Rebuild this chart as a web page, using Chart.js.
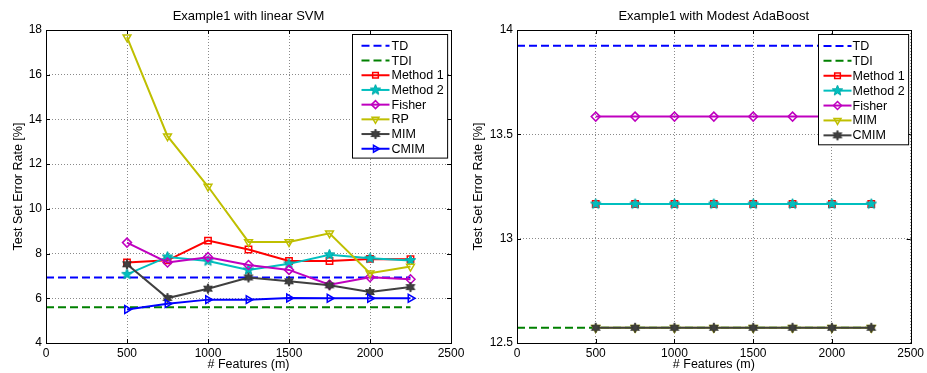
<!DOCTYPE html>
<html>
<head>
<meta charset="utf-8">
<script src="https://cdn.jsdelivr.net/npm/chart.js"></script>
<style>
  html, body { margin: 0; padding: 0; background: #fff; }
  #wrap { position: relative; width: 927px; height: 373px; overflow: hidden; }
  #svmChart { position: absolute; left: 0; top: 0; }
  #adaChart { position: absolute; left: 466px; top: 0; }
</style>
</head>
<body>
<div id="wrap">
  <canvas id="svmChart" width="470" height="373"></canvas>
  <canvas id="adaChart" width="461" height="373"></canvas>
</div>
<script>
// x values shared by both panels
const features = [500, 750, 1000, 1250, 1500, 1750, 2000, 2250];
const refSpan = [0, 2250];
const xTicks = [0, 500, 1000, 1500, 2000, 2500];

// left panel: linear SVM
const svmTicks = [4, 6, 8, 10, 12, 14, 16, 18];
const svmTD = [6.93, 6.93];
const svmTDI = [5.6, 5.6];
const svmMethod1 = [7.6, 7.7, 8.58, 8.18, 7.67, 7.67, 7.76, 7.75];
const svmMethod2 = [7.07, 7.85, 7.67, 7.27, 7.54, 7.95, 7.79, 7.69];
const svmFisher = [8.49, 7.6, 7.84, 7.49, 7.27, 6.61, 6.94, 6.85];
const svmRP = [17.68, 13.25, 11.0, 8.52, 8.52, 8.91, 7.12, 7.42];
const svmMIM = [7.52, 6.01, 6.43, 6.93, 6.76, 6.58, 6.28, 6.5];
const svmCMIM = [5.5, 5.76, 5.94, 5.94, 6.01, 6.0, 6.0, 6.0];

// right panel: Modest AdaBoost
const adaTicks = [12.5, 13, 13.5, 14];
const adaTD = [13.925, 13.925];
const adaTDI = [12.573, 12.573];
const adaMethod1 = [13.166, 13.166, 13.166, 13.166, 13.166, 13.166, 13.166, 13.166];
const adaMethod2 = [13.166, 13.166, 13.166, 13.166, 13.166, 13.166, 13.166, 13.166];
const adaFisher = [13.585, 13.585, 13.585, 13.585, 13.585, 13.585, 13.585, 13.585];
const adaMIM = [12.573, 12.573, 12.573, 12.573, 12.573, 12.573, 12.573, 12.573];
const adaCMIM = [12.573, 12.573, 12.573, 12.573, 12.573, 12.573, 12.573, 12.573];

const FONT = "'Liberation Sans', Arial, Helvetica, sans-serif";

// filled star marker as an image, chart.js accepts a canvas as pointStyle
function makeStar(points, rOut, rIn, fill, stroke) {
    const size = Math.ceil(rOut * 2 + 2);
    const c = document.createElement('canvas');
    c.width = size; c.height = size;
    const g = c.getContext('2d');
    const cx = size / 2, cy = size / 2;
    g.beginPath();
    for (let i = 0; i < points * 2; i++) {
        const r = i % 2 === 0 ? rOut : rIn;
        const a = -Math.PI / 2 + i * Math.PI / points;
        const px = cx + r * Math.cos(a), py = cy + r * Math.sin(a);
        if (i === 0) g.moveTo(px, py); else g.lineTo(px, py);
    }
    g.closePath();
    g.fillStyle = fill;
    g.fill();
    g.strokeStyle = stroke;
    g.lineWidth = 1;
    g.stroke();
    return c;
}

const cyanStar = makeStar(5, 5.5, 2.4, '#00bfbf', '#00a8a8');
const grayStar = makeStar(6, 5, 2.6, '#404040', '#303030');

function pts(xs, ys) {
    return xs.map((x, i) => ({ x: x, y: ys[i] }));
}

// chart.js paints low "order" on top, so later datasets get lower order
let drawOrder = 0;

function refLine(label, color, ys) {
    return {
        label: label, data: pts(refSpan, ys), order: drawOrder--,
        borderColor: color, borderWidth: 2, borderDash: [8, 4],
        pointRadius: 0, fill: false
    };
}

function series(label, color, ys, style, extra) {
    return Object.assign({
        label: label, data: pts(features, ys), order: drawOrder--,
        borderColor: color, borderWidth: 2,
        pointStyle: style, pointRadius: 4.5, pointBorderWidth: 1.5,
        pointBorderColor: color, pointBackgroundColor: 'rgba(0,0,0,0)',
        fill: false, tension: 0
    }, extra || {});
}

// matlab-like box, inward ticks, title and inner legend
const matlabPlugin = {
    id: 'matlab',
    afterDraw(chart, args, opts) {
        const ctx = chart.ctx;
        const a = chart.chartArea;
        ctx.save();
        ctx.strokeStyle = '#000';
        ctx.lineWidth = 1;
        ctx.setLineDash([]);
        ctx.strokeRect(Math.round(a.left) + 0.5, Math.round(a.top) + 0.5,
            Math.round(a.right - a.left), Math.round(a.bottom - a.top));
        ctx.beginPath();
        chart.scales.x.ticks.forEach(t => {
            const px = Math.round(chart.scales.x.getPixelForValue(t.value)) + 0.5;
            ctx.moveTo(px, a.bottom); ctx.lineTo(px, a.bottom - 4);
            ctx.moveTo(px, a.top); ctx.lineTo(px, a.top + 4);
        });
        chart.scales.y.ticks.forEach(t => {
            const py = Math.round(chart.scales.y.getPixelForValue(t.value)) + 0.5;
            ctx.moveTo(a.left, py); ctx.lineTo(a.left + 4, py);
            ctx.moveTo(a.right, py); ctx.lineTo(a.right - 4, py);
        });
        ctx.stroke();

        // title
        ctx.fillStyle = '#000';
        ctx.font = '13px ' + FONT;
        ctx.textAlign = 'center';
        ctx.textBaseline = 'alphabetic';
        ctx.fillText(opts.title, (a.left + a.right) / 2, 19.5);

        // legend box in the top right corner
        const sets = chart.data.datasets;
        ctx.font = '12.5px ' + FONT;
        const textW = Math.max(...sets.map(d => ctx.measureText(d.label).width));
        const rowH = opts.rowHeight;
        const boxW = opts.textX + textW + 4;
        const boxH = sets.length * rowH + 6;
        const bx = Math.round(a.right - opts.gapRight - boxW) + 0.5;
        const by = Math.round(a.top + 4) + 0.5;
        const midX = bx + (opts.sampleStart + opts.sampleEnd) / 2;
        ctx.fillStyle = '#fff';
        ctx.fillRect(bx, by, boxW, boxH);
        ctx.strokeStyle = '#000';
        ctx.lineWidth = 1;
        ctx.strokeRect(bx, by, boxW, boxH);
        sets.forEach((d, i) => {
            const y = by + 3 + rowH * (i + 0.5) + 1;
            ctx.strokeStyle = d.borderColor;
            ctx.lineWidth = d.borderWidth;
            ctx.setLineDash(d.borderDash || []);
            ctx.beginPath();
            ctx.moveTo(bx + opts.sampleStart, y);
            ctx.lineTo(bx + opts.sampleEnd, y);
            ctx.stroke();
            ctx.setLineDash([]);
            if (d.pointRadius > 0) {
                ctx.fillStyle = d.pointBackgroundColor;
                ctx.strokeStyle = d.pointBorderColor;
                ctx.lineWidth = d.pointBorderWidth;
                Chart.helpers.drawPoint(ctx, {
                    pointStyle: d.pointStyle, radius: d.pointRadius - 0.5,
                    rotation: d.pointRotation || 0, borderWidth: d.pointBorderWidth
                }, midX, y);
            }
            ctx.fillStyle = '#000';
            ctx.textAlign = 'left';
            ctx.textBaseline = 'middle';
            ctx.fillText(d.label, bx + opts.textX, y + 0.5);
        });
        ctx.restore();
    }
};

function makeOptions(cfg) {
    return {
        responsive: false,
        animation: false,
        layout: { padding: { top: 30, right: cfg.padRight, left: 0, bottom: 0 } },
        plugins: {
            legend: { display: false },
            title: { display: false },
            tooltip: { enabled: false },
            matlab: Object.assign({ title: cfg.title }, cfg.legend)
        },
        scales: {
            x: {
                type: 'linear', min: 0, max: 2500,
                afterBuildTicks: s => { s.ticks = xTicks.map(v => ({ value: v })); },
                afterFit: s => { s.height = 30; },
                grid: { color: '#8a8a8a', lineWidth: 1, drawTicks: false },
                border: { display: false, dash: [1, 2] },
                ticks: { color: '#000', padding: 3, maxRotation: 0, font: { family: FONT, size: 12 },
                         callback: v => String(v) },
                title: { display: true, text: '# Features (m)', color: '#000',
                         padding: { top: 0, bottom: 1 }, font: { family: FONT, size: 12.5 } }
            },
            y: {
                min: cfg.yMin, max: cfg.yMax,
                afterBuildTicks: s => { s.ticks = cfg.yTicks.map(v => ({ value: v })); },
                afterFit: s => { s.width = cfg.yWidth; },
                grid: { color: '#8a8a8a', lineWidth: 1, drawTicks: false },
                border: { display: false, dash: [1, 2] },
                ticks: { color: '#000', padding: 4, font: { family: FONT, size: 12 },
                         callback: v => String(v) },
                title: { display: true, text: 'Test Set Error Rate [%]', color: '#000',
                         padding: { top: cfg.titlePad, bottom: 0 }, font: { family: FONT, size: 12.5 } }
            }
        }
    };
}

new Chart(document.getElementById('svmChart'), {
    type: 'line',
    data: {
        datasets: [
            refLine('TD', '#0000ff', svmTD),
            refLine('TDI', '#008000', svmTDI),
            series('Method 1', '#ff0000', svmMethod1, 'rect'),
            series('Method 2', '#00bfbf', svmMethod2, cyanStar),
            series('Fisher', '#bf00bf', svmFisher, 'rectRot'),
            series('RP', '#bfbf00', svmRP, 'triangle', { pointRotation: 180 }),
            series('MIM', '#404040', svmMIM, grayStar),
            series('CMIM', '#0000ff', svmCMIM, 'triangle', { pointRotation: 90 })
        ]
    },
    options: makeOptions({ title: 'Example1 with linear SVM', padRight: 19, yWidth: 46,
        titlePad: 10.8, yMin: 4, yMax: 18, yTicks: svmTicks,
        legend: { rowHeight: 14.7, gapRight: 4, sampleStart: 9, sampleEnd: 37, textX: 39 } }),
    plugins: [matlabPlugin]
});

drawOrder = 0;
new Chart(document.getElementById('adaChart'), {
    type: 'line',
    data: {
        datasets: [
            refLine('TD', '#0000ff', adaTD),
            refLine('TDI', '#008000', adaTDI),
            series('Method 1', '#ff0000', adaMethod1, 'rect'),
            series('Method 2', '#00bfbf', adaMethod2, cyanStar),
            series('Fisher', '#bf00bf', adaFisher, 'rectRot'),
            series('MIM', '#bfbf00', adaMIM, 'triangle', { pointRotation: 180 }),
            series('CMIM', '#404040', adaCMIM, grayStar)
        ]
    },
    options: makeOptions({ title: 'Example1 with Modest AdaBoost', padRight: 15, yWidth: 51,
        titlePad: 4.8, yMin: 12.5, yMax: 14, yTicks: adaTicks,
        legend: { rowHeight: 14.9, gapRight: 3, sampleStart: 5, sampleEnd: 33, textX: 34 } }),
    plugins: [matlabPlugin]
});
</script>
</body>
</html>
